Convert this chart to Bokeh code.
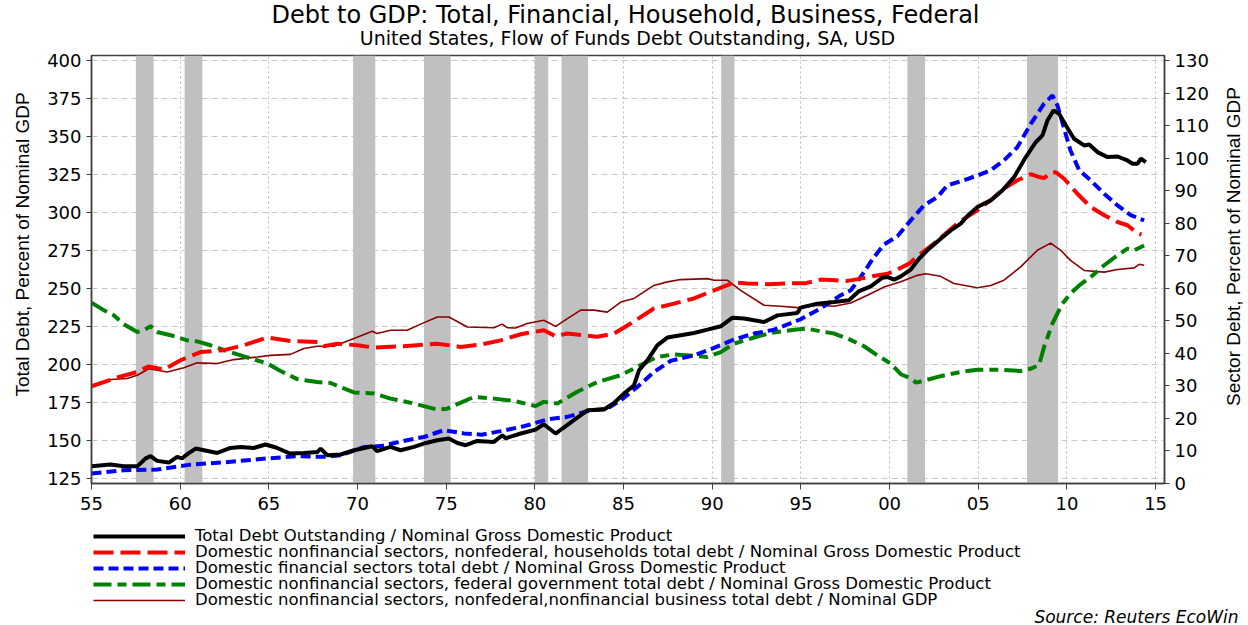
import math
from bokeh.plotting import figure
from bokeh.layouts import column, row
from bokeh.models import (Range1d, LinearAxis, FixedTicker, BoxAnnotation, Legend,
                          LegendItem, Label)
from bokeh.embed import file_html
from bokeh.resources import INLINE

# ---------------- data ----------------
total_years = [1955.0, 1956.07, 1956.82, 1957.58, 1958.05, 1958.33, 1958.7, 1959.36, 1959.83, 1960.1,
               1960.4, 1960.87, 1961.35, 1962.09, 1962.84, 1963.4, 1964.15, 1964.81, 1965.4, 1966.2,
               1966.97, 1967.73, 1967.92, 1968.3, 1969.05, 1969.8, 1970.83, 1971.1, 1971.86, 1972.43,
               1973.18, 1973.74, 1974.5, 1975.15, 1975.63, 1976.1, 1976.75, 1977.69, 1978.16, 1978.35,
               1979.2, 1980.04, 1980.5, 1981.17, 1981.55, 1982.2, 1982.96, 1983.9, 1984.46, 1985.02,
               1985.59, 1985.87, 1986.34, 1986.9, 1987.47, 1988.22, 1988.97, 1989.73, 1990.48, 1991.14,
               1991.8, 1992.92, 1993.68, 1994.8, 1994.98, 1995.93, 1996.87, 1997.71, 1998.28, 1998.94,
               1999.6, 1999.9, 2000.25, 2000.63, 2001.19, 2001.66, 2002.13, 2002.88, 2003.45, 2004.01,
               2004.4, 2004.95, 2005.7, 2006.36, 2007.02, 2007.68, 2008.24, 2008.62, 2008.9, 2009.24,
               2009.56, 2009.94, 2010.4, 2010.97, 2011.25, 2011.72, 2012.29, 2012.85, 2013.41, 2013.7,
               2013.97, 2014.17, 2014.45]
total_vals = [133.1, 134.2, 133.0, 133.0, 138.2, 139.7, 136.6, 135.5, 139.2, 138.2,
              141.0, 144.7, 143.6, 141.8, 145.1, 145.8, 145.1, 147.4, 145.4, 141.4,
              141.8, 142.4, 144.7, 140.3, 140.8, 143.6, 146.2, 143.0, 145.8, 143.6,
              145.8, 148.0, 150.2, 151.3, 148.4, 146.9, 149.7, 149.1, 153.5, 151.5,
              154.6, 157.2, 160.7, 154.6, 157.9, 163.4, 169.9, 170.4, 174.7, 180.9,
              186.4, 196.2, 202.8, 212.7, 217.8, 219.3, 220.8, 223.0, 225.2, 230.9,
              230.3, 228.0, 232.4, 234.0, 237.5, 240.1, 241.2, 242.3, 248.4, 251.5,
              257.2, 257.6, 255.9, 258.1, 262.5, 269.7, 275.2, 282.9, 288.3, 292.8,
              298.0, 303.7, 308.1, 314.7, 323.4, 336.6, 346.4, 350.9, 360.7, 367.3,
              365.1, 357.4, 348.7, 344.3, 344.9, 339.9, 336.6, 337.0, 334.4, 332.2,
              332.2, 335.5, 333.3]

house_years = [1955.0, 1956.45, 1957.58, 1958.23, 1959.08, 1960.02, 1961.15, 1962.46, 1963.59, 1964.9,
               1966.22, 1967.9, 1968.1, 1968.86, 1969.98, 1970.92, 1972.61, 1974.5, 1975.81, 1976.94,
               1978.07, 1979.2, 1980.5, 1981.17, 1981.83, 1983.52, 1984.46, 1985.4, 1986.71, 1987.84,
               1988.97, 1990.1, 1991.23, 1991.98, 1993.11, 1994.42, 1995.27, 1996.12, 1996.96, 1997.62,
               1998.37, 1999.03, 1999.88, 2000.44, 2001.1, 2001.76, 2002.51, 2003.26, 2003.92, 2004.95,
               2005.7, 2006.45, 2007.2, 2007.96, 2008.33, 2008.71, 2009.08, 2009.37, 2009.84, 2010.59,
               2011.34, 2012.1, 2012.85, 2013.41, 2013.97, 2014.2]
house_vals = [29.9, 32.6, 34.3, 36.0, 35.0, 37.9, 40.4, 41.0, 42.5, 44.9,
              43.8, 43.5, 42.2, 43.0, 42.5, 41.8, 42.2, 43.0, 42.0, 42.7,
              44.0, 45.9, 47.1, 45.3, 46.1, 45.1, 46.1, 49.2, 53.8, 55.3,
              56.9, 59.4, 61.8, 61.5, 61.3, 61.6, 61.6, 62.7, 62.5, 62.3,
              63.0, 63.7, 64.5, 65.8, 67.6, 70.7, 73.8, 77.3, 80.4, 84.0,
              87.1, 90.7, 93.2, 95.1, 94.4, 93.9, 95.6, 95.7, 93.7, 89.1,
              85.0, 82.5, 80.4, 79.4, 77.0, 76.5]

fin_years = [1955.0, 1956.82, 1958.7, 1960.58, 1962.46, 1964.9, 1966.6, 1968.1, 1969.05, 1970.36,
             1971.3, 1972.8, 1973.74, 1974.87, 1976.0, 1977.0, 1978.07, 1979.38, 1980.7, 1981.83,
             1983.14, 1984.08, 1984.84, 1985.78, 1986.71, 1987.65, 1988.97, 1990.1, 1991.23, 1992.36,
             1993.49, 1994.98, 1996.1, 1997.25, 1997.81, 1998.37, 1999.12, 1999.69, 2000.44, 2001.19,
             2001.94, 2002.7, 2003.26, 2004.0, 2004.95, 2005.7, 2006.45, 2007.2, 2007.96, 2008.71,
             2009.18, 2009.46, 2009.84, 2010.2, 2010.69, 2011.34, 2012.1, 2012.85, 2013.6, 2014.35]
fin_vals = [3.1, 4.1, 4.3, 5.8, 6.5, 7.7, 8.4, 8.2, 8.7, 11.2,
            11.5, 13.3, 14.3, 16.4, 15.4, 15.0, 16.1, 17.6, 19.7, 20.5,
            22.5, 23.0, 25.6, 29.7, 34.3, 37.7, 39.4, 41.7, 44.3, 46.1,
            47.3, 50.5, 53.8, 57.9, 59.4, 63.5, 69.6, 73.5, 76.0, 80.9,
            85.5, 88.1, 91.7, 92.9, 94.7, 96.3, 99.4, 103.4, 110.6, 116.8,
            119.3, 116.3, 109.1, 102.4, 96.3, 93.2, 89.1, 85.5, 82.5, 80.9]

fed_years = [1955.0, 1955.69, 1956.26, 1956.82, 1957.58, 1957.95, 1958.33, 1958.7, 1959.46, 1960.4,
             1960.96, 1961.71, 1962.65, 1963.59, 1964.9, 1965.66, 1966.6, 1967.73, 1968.48, 1969.8,
             1970.92, 1971.86, 1973.18, 1974.5, 1975.06, 1975.63, 1976.56, 1977.69, 1978.82, 1980.04,
             1980.5, 1981.26, 1982.39, 1983.52, 1984.84, 1985.96, 1986.9, 1987.84, 1989.73, 1990.48,
             1991.23, 1992.36, 1993.3, 1994.61, 1995.35, 1996.1, 1996.87, 1997.62, 1998.56, 1999.31,
             2000.06, 2000.63, 2001.19, 2001.5, 2002.88, 2004.01, 2004.95, 2006.08, 2007.39, 2007.96,
             2008.43, 2008.71, 2009.18, 2009.74, 2010.2, 2010.69, 2011.34, 2012.1, 2012.85, 2013.41,
             2013.79, 2014.35]
fed_vals = [55.6, 53.3, 51.7, 49.0, 46.6, 47.1, 48.4, 46.6, 45.6, 44.0,
            43.7, 42.5, 40.7, 39.1, 36.9, 34.6, 32.1, 31.2, 30.9, 28.0,
            27.7, 26.1, 24.6, 22.7, 23.0, 24.4, 26.6, 26.1, 25.4, 23.8,
            25.1, 24.6, 28.2, 31.2, 33.3, 36.4, 38.9, 39.7, 38.9, 40.4,
            43.0, 44.9, 46.3, 47.3, 47.6, 46.8, 46.1, 44.6, 42.2, 39.4,
            36.9, 33.6, 32.3, 31.0, 33.0, 34.3, 35.0, 35.0, 34.6, 35.3,
            36.4, 42.0, 49.2, 55.3, 58.4, 60.9, 63.5, 67.1, 70.2, 72.2,
            71.7, 73.2]

bus_years = [1955.0, 1956.07, 1957.01, 1957.58, 1958.23, 1959.27, 1960.21, 1960.96, 1962.09, 1963.03,
             1964.35, 1965.1, 1966.22, 1966.97, 1967.73, 1968.67, 1969.8, 1970.83, 1971.1, 1971.86,
             1972.8, 1973.56, 1974.5, 1975.15, 1976.19, 1977.69, 1978.16, 1978.44, 1978.91, 1979.57,
             1980.5, 1981.17, 1981.55, 1982.58, 1983.33, 1984.08, 1984.84, 1985.59, 1986.71, 1987.47,
             1988.22, 1989.73, 1990.1, 1990.85, 1991.6, 1992.92, 1993.86, 1995.0, 1995.93, 1996.87,
             1997.81, 1998.75, 1999.69, 2000.63, 2001.57, 2002.04, 2002.88, 2003.63, 2004.95, 2005.7,
             2006.45, 2007.39, 2008.33, 2009.08, 2009.65, 2010.2, 2010.97, 2012.1, 2012.85, 2013.79,
             2014.07, 2014.35]
bus_vals = [29.9, 32.0, 32.3, 33.3, 35.3, 34.3, 35.6, 37.1, 36.9, 38.1,
            38.9, 39.4, 39.7, 41.5, 42.2, 42.2, 44.6, 46.8, 46.1, 47.1,
            47.1, 49.0, 51.2, 51.2, 48.1, 47.9, 49.0, 47.9, 47.8, 49.2,
            50.2, 48.3, 49.7, 53.3, 53.3, 52.7, 55.8, 56.9, 60.9, 62.0,
            62.7, 63.0, 62.5, 62.5, 59.4, 54.8, 54.5, 54.0, 54.8, 54.5,
            55.5, 57.9, 60.4, 62.0, 64.0, 64.5, 63.7, 61.5, 60.2, 60.9,
            62.5, 66.6, 71.7, 73.9, 71.7, 68.6, 65.5, 65.0, 65.8, 66.3,
            67.4, 67.1]

# NBER recessions (shaded)
rec_start = [1957.5, 1960.25, 1969.75, 1973.75, 1980.0, 1981.5, 1990.5, 2001.0, 2007.75]
rec_end = [1958.5, 1961.25, 1971.0, 1975.25, 1980.75, 1983.0, 1991.25, 2002.0, 2009.5]

x_tick_years = [1955, 1960, 1965, 1970, 1975, 1980, 1985, 1990, 1995, 2000, 2005, 2010, 2015]
x_tick_labels = ["55", "60", "65", "70", "75", "80", "85", "90", "95", "00", "05", "10", "15"]
left_ticks = [125, 150, 175, 200, 225, 250, 275, 300, 325, 350, 375, 400]
right_ticks = [0, 10, 20, 30, 40, 50, 60, 70, 80, 90, 100, 110, 120, 130]

labels = [
    "Total Debt Outstanding / Nominal Gross Domestic Product",
    "Domestic nonfinancial sectors, nonfederal, households total debt / Nominal Gross Domestic Product",
    "Domestic financial sectors total debt / Nominal Gross Domestic Product",
    "Domestic nonfinancial sectors, federal government total debt / Nominal Gross Domestic Product",
    "Domestic nonfinancial sectors, nonfederal,nonfinancial business total debt / Nominal GDP",
]

title_text = "Debt to GDP: Total, Financial, Household, Business, Federal"
subtitle_text = "United States, Flow of Funds Debt Outstanding, SA, USD"
source_text = "Source: Reuters EcoWin"
left_axis_title = "Total Debt, Percent of Nominal GDP"
right_axis_title = "Sector Debt, Percent of Nominal GDP"

# line styles: total, households, financial, federal, business
styles = [dict(line_color="black", line_width=4),
          dict(line_color="#FF0000", line_width=4, line_dash="20 7"),
          dict(line_color="#0000FF", line_width=4, line_dash="10 5"),
          dict(line_color="#008000", line_width=4, line_dash="18 6 9 6"),
          dict(line_color="#8B0000", line_width=1.6)]
series = [(total_years, total_vals), (house_years, house_vals), (fin_years, fin_vals),
          (fed_years, fed_vals), (bus_years, bus_vals)]


def strip(w, h):
    """A bare figure used as a text / legend panel."""
    f = figure(width=w, height=h, output_backend="svg", toolbar_location=None,
               x_range=Range1d(0, 1), y_range=Range1d(0, 1), x_axis_type=None, y_axis_type=None,
               min_border_left=0, min_border_right=0, min_border_top=0, min_border_bottom=0)
    f.outline_line_color = None
    f.background_fill_color = "white"
    f.border_fill_color = "white"
    if "frame_align" in f.properties():
        f.frame_align = False
    return f


TOP_H, MAIN_H, LEG_H = 50, 470, 105
LEFT_W, RIGHT_W = 36, 34
MAIN_W = 1248 - LEFT_W - RIGHT_W

# ---------------- title strip ----------------
top = strip(1248, TOP_H)
top.add_layout(Label(x=625, y=TOP_H - 14.5, x_units="screen", y_units="screen", text=title_text,
                     text_align="center", text_baseline="middle", text_font="DejaVu Sans",
                     text_font_size="24px", text_color="black"))
top.add_layout(Label(x=627, y=TOP_H - 37, x_units="screen", y_units="screen", text=subtitle_text,
                     text_align="center", text_baseline="middle", text_font="DejaVu Sans",
                     text_font_size="19px", text_color="black"))

# ---------------- axis title strips ----------------
lft = strip(LEFT_W, MAIN_H)
lft.add_layout(Label(x=22, y=MAIN_H - 194, x_units="screen", y_units="screen", text=left_axis_title,
                     angle=math.pi / 2, text_align="center", text_baseline="middle",
                     text_font="Liberation Sans", text_font_size="19px", text_color="black"))
rgt = strip(RIGHT_W, MAIN_H)
rgt.add_layout(Label(x=19, y=MAIN_H - 196, x_units="screen", y_units="screen", text=right_axis_title,
                     angle=math.pi / 2, text_align="center", text_baseline="middle",
                     text_font="Liberation Sans", text_font_size="19px", text_color="black"))

# ---------------- main chart ----------------
p = figure(width=MAIN_W, height=MAIN_H, output_backend="svg", toolbar_location=None,
           x_range=Range1d(1955.0, 2015.5), y_range=Range1d(121.7, 403.5),
           min_border_left=91 - LEFT_W, min_border_right=(1248 - RIGHT_W) - 1164,
           min_border_top=5, min_border_bottom=37)
if "frame_align" in p.properties():
    p.frame_align = False
p.extra_y_ranges = {"sector": Range1d(0, 131.6)}
p.background_fill_color = "white"
p.border_fill_color = "white"
p.outline_line_color = "#404040"
p.outline_line_width = 1.5

xa = p.xaxis[0]
xa.ticker = FixedTicker(ticks=x_tick_years)
xa.major_label_overrides = {y: l for y, l in zip(x_tick_years, x_tick_labels)}
ya = p.yaxis[0]
ya.ticker = FixedTicker(ticks=left_ticks)
ra = LinearAxis(y_range_name="sector", ticker=FixedTicker(ticks=right_ticks))
p.add_layout(ra, "right")
for ax in (xa, ya, ra):
    ax.axis_line_color = "#404040"
    ax.axis_line_width = 1.5
    ax.major_tick_line_color = "#404040"
    ax.major_tick_out = 5
    ax.major_tick_in = 0
    ax.minor_tick_line_color = None
    ax.major_label_text_font = "DejaVu Sans"
    ax.major_label_text_font_size = "18px"
    ax.major_label_text_color = "black"
    ax.major_label_standoff = 5
xa.major_tick_out = 6
xa.major_label_standoff = 7

p.xgrid.ticker = FixedTicker(ticks=x_tick_years)
p.xgrid.grid_line_color = "#BBBBBB"
p.xgrid.grid_line_dash = "2 3"
p.ygrid.grid_line_color = "#C8C8C8"
p.ygrid.grid_line_dash = "6 4"
p.xgrid.level = "image"
p.ygrid.level = "image"

for s, e in zip(rec_start, rec_end):
    p.add_layout(BoxAnnotation(left=s, right=e, fill_color="#C0C0C0", fill_alpha=1.0,
                               line_alpha=0, level="underlay"))

# draw order: business, federal, financial, households, total (total on the left axis)
for i in [4, 3, 2, 1, 0]:
    xs, ys = series[i]
    if i == 0:
        p.line(xs, ys, **styles[i])
    else:
        p.line(xs, ys, y_range_name="sector", **styles[i])

# ---------------- legend / source strip ----------------
leg = strip(1248, LEG_H)
row_centers = [17, 33, 49, 65, 81]   # legend rows, pixels from the strip top
ROW_H = 16
for (xs, ys), lab, st, c in zip(series, labels, styles, row_centers):
    r = leg.line(xs, ys, **st)   # proxy renderer, outside the strip's visible range
    lg = Legend(items=[LegendItem(label=lab, renderers=[r])],
                location=(93, LEG_H - c - ROW_H / 2), orientation="vertical",
                glyph_width=92, glyph_height=ROW_H, label_height=ROW_H, spacing=0,
                padding=0, margin=0, label_standoff=10,
                label_text_font="DejaVu Sans", label_text_font_size="16.5px",
                label_text_color="black", label_text_baseline="middle",
                border_line_alpha=0, background_fill_alpha=0)
    leg.add_layout(lg, "center")

leg.add_layout(Label(x=1238, y=LEG_H - 96, x_units="screen", y_units="screen", text=source_text,
                     text_align="right", text_baseline="middle", text_font="DejaVu Sans",
                     text_font_size="17px", text_font_style="italic", text_color="black"))

layout = column(top, row(lft, p, rgt), leg)
open("out.html", "w").write(file_html(layout, INLINE))
